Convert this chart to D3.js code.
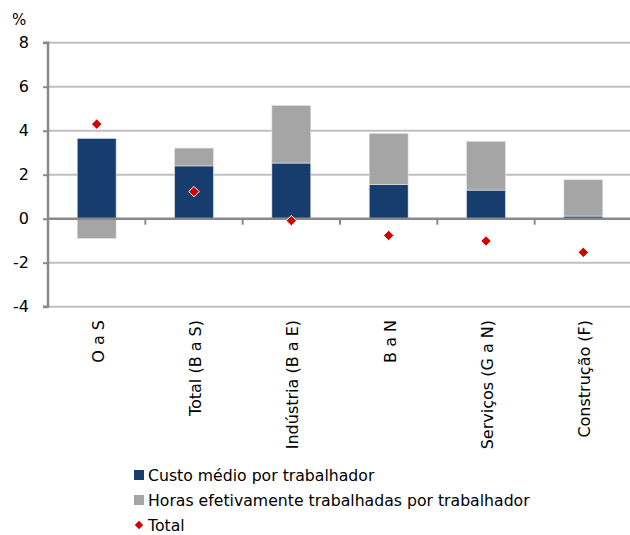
<!DOCTYPE html>
<html><head><meta charset="utf-8">
<script src="https://cdn.jsdelivr.net/npm/d3@7"></script>
<style>body{margin:0;background:#fff}svg{display:block}</style>
</head><body>
<script>
const categories = ["O a S","Total (B a S)","Indústria (B a E)","B a N","Serviços (G a N)","Construção (F)"];
const custo = [3.65, 2.40, 2.53, 1.55, 1.30, 0.12];
const horas = [-0.90, 0.81, 2.62, 2.33, 2.22, 1.65];
const total = [4.30, 1.23, -0.09, -0.76, -1.01, -1.53];
const yTicks = [-4,-2,0,2,4,6,8];
const seriesNames = ["Custo médio por trabalhador","Horas efetivamente trabalhadas por trabalhador","Total"];

const W = 630, H = 535;
const svg = d3.select("body").append("svg").attr("width", W).attr("height", H);
const font = "DejaVu Sans, Verdana, sans-serif";
const x = d3.scaleBand().domain(categories).range([48, 632]).paddingInner(0.6).paddingOuter(0.3);
const y = d3.scaleLinear().domain([-4, 8]).range([306.7, 42.7]);

// gridlines
svg.append("g").selectAll("line").data(yTicks.filter(d => d !== 0)).join("line")
  .attr("x1", 48).attr("x2", 630).attr("y1", d => y(d)).attr("y2", d => y(d))
  .attr("stroke", "#c0c0c0").attr("stroke-width", 2);

// bars
const stacks = categories.map((c, i) => {
  const segs = [];
  let pos = 0, neg = 0;
  [[custo[i], "#173c6e"], [horas[i], "#a5a5a5"]].forEach(([v, col]) => {
    if (v >= 0) { segs.push({c, y0: pos, y1: pos + v, col}); pos += v; }
    else { segs.push({c, y0: neg + v, y1: neg, col}); neg += v; }
  });
  return segs;
}).flat();
svg.append("g").selectAll("rect").data(stacks).join("rect")
  .attr("x", d => x(d.c)).attr("width", x.bandwidth())
  .attr("y", d => y(d.y1)).attr("height", d => y(d.y0) - y(d.y1))
  .attr("fill", d => d.col).attr("stroke", "#e8e8e8").attr("stroke-width", 0.6);

// y axis
const yAxis = d3.axisLeft(y).tickValues(yTicks).tickSize(5).tickPadding(14)
  .tickFormat(d => String(d).replace("−", "-"));
const ga = svg.append("g").attr("transform", "translate(48,0)").call(yAxis);
ga.select(".domain").attr("stroke", "#898989").attr("stroke-width", 2.5).attr("d", `M-5,${y(8)}H0V${y(-4)}H-5`);
ga.selectAll(".tick line").attr("stroke", "#898989").attr("stroke-width", 2);
ga.selectAll("text").attr("font-family", font).attr("font-size", 16).attr("fill", "#000");

// x axis at zero
const xAxis = d3.axisBottom(x).tickSize(0).tickFormat("");
const gx = svg.append("g").attr("transform", `translate(0,${y(0)})`).call(xAxis);
gx.select(".domain").attr("stroke", "#898989").attr("stroke-width", 2.5).attr("d", "M48,0H630");
const step = x.step();
svg.append("g").selectAll("line").data(d3.range(1, categories.length + 1)).join("line")
  .attr("x1", i => 48 + i * step).attr("x2", i => 48 + i * step)
  .attr("y1", y(0)).attr("y2", y(0) + 6).attr("stroke", "#898989").attr("stroke-width", 2);

// category labels
svg.append("g").selectAll("text").data(categories).join("text")
  .attr("transform", d => `translate(${x(d) + x.bandwidth()/2 + 7},320) rotate(-90)`)
  .attr("text-anchor", "end").attr("font-family", font).attr("font-size", 16).attr("fill", "#000")
  .text(d => d);

// total diamonds
const diamond = d3.symbol().type(d3.symbolDiamond2).size(70);
svg.append("g").selectAll("path").data(total).join("path")
  .attr("transform", (d, i) => `translate(${x(categories[i]) + x.bandwidth()/2},${y(d)})`)
  .attr("d", diamond).attr("fill", "#d40000").attr("stroke", "#fff").attr("stroke-width", 1);

// % label
svg.append("text").attr("x", 12).attr("y", 25).attr("font-family", font).attr("font-size", 15).text("%");

// legend
const lg = svg.append("g");
const rowsY = [475, 500, 525];
lg.append("rect").attr("x", 134).attr("y", rowsY[0] - 5).attr("width", 10).attr("height", 10).attr("fill", "#173c6e");
lg.append("rect").attr("x", 134).attr("y", rowsY[1] - 5).attr("width", 10).attr("height", 10).attr("fill", "#a5a5a5");
lg.append("path").attr("transform", `translate(139,${rowsY[2]})`).attr("d", d3.symbol().type(d3.symbolDiamond2).size(45)).attr("fill", "#d40000");
lg.selectAll("text").data(seriesNames).join("text")
  .attr("x", 148).attr("y", (d, i) => rowsY[i]).attr("dy", "0.36em")
  .attr("font-family", font).attr("font-size", 15.7).attr("fill", "#000").text(d => d);
</script>
</body></html>
